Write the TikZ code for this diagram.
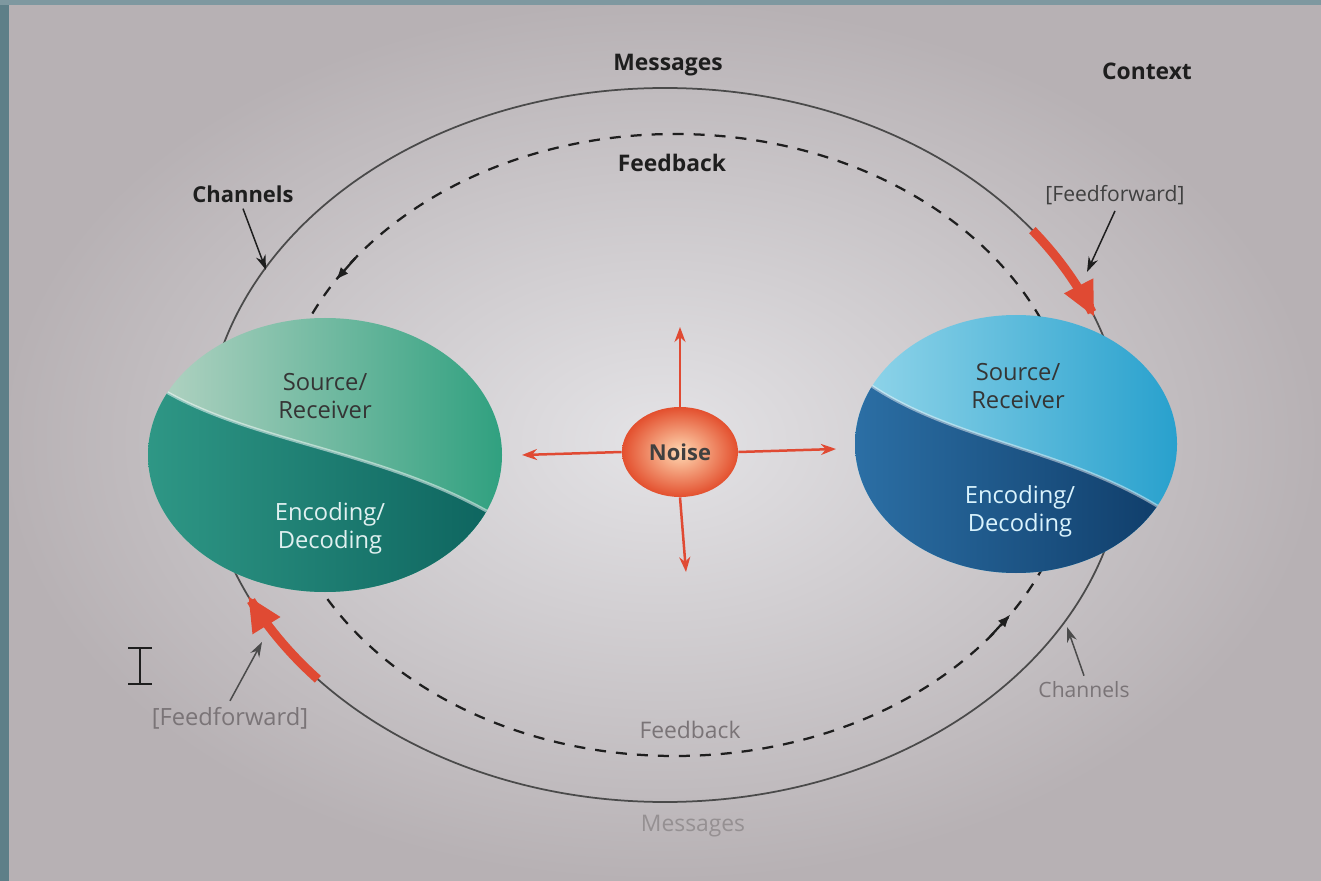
\documentclass[tikz,border=0pt]{standalone}
\usepackage{fontspec}
\setmainfont{Open Sans}
\usetikzlibrary{arrows.meta, shapes.geometric, positioning}

\definecolor{screen}{HTML}{E4E3E6}
\definecolor{screenedge}{HTML}{B7B1B4}
\definecolor{bezel}{HTML}{5E7F88}
\definecolor{ink}{HTML}{1E1E1E}
\definecolor{softink}{HTML}{7A7477}
\definecolor{ringgray}{HTML}{4A4A4A}
\definecolor{noisered}{HTML}{E04A33}
\definecolor{sagelight}{HTML}{B6D4C4}
\definecolor{sagedeep}{HTML}{2FA07F}
\definecolor{tealmid}{HTML}{2F9886}
\definecolor{tealdark}{HTML}{0C625D}
\definecolor{skylight}{HTML}{93D6EA}
\definecolor{skydeep}{HTML}{27A0CD}
\definecolor{navymid}{HTML}{2C70A6}
\definecolor{navydark}{HTML}{0E3A66}

\begin{document}
\begin{tikzpicture}[x=0.02cm, y=-0.02cm,
    toplabel/.style={font=\fontsize{13}{15}\selectfont\bfseries, text=ink},
    softlabel/.style={font=\fontsize{13}{15}\selectfont, text=softink},
    balltext/.style={font=\fontsize{13.5}{16}\selectfont, align=center},
    pointer/.style={-{Stealth[length=0.3cm,width=0.2cm]}, line width=0.03cm, ink},
    feedfwd/.style={line width=0.18cm, noisered, -{Triangle[length=0.7cm,width=0.6cm]}},
    noisearrow/.style={line width=0.05cm, noisered, -{Stealth[length=0.3cm,width=0.22cm]}},
    fbtip/.style={-{Latex[length=0.26cm,width=0.2cm]}, line width=0.045cm, ink}
]
    % screen and bezel
    \useasboundingbox (0,0) rectangle (1321,881);
    \shade[inner color=screen, outer color=screenedge] (0,0) rectangle (1321,881);
    \fill[bezel] (0,0) rectangle (9,881);
    \fill[bezel!80!white] (0,0) rectangle (1321,5);

    % messages ring and feedback ring
    \draw[ringgray, line width=0.035cm] (665,445) ellipse [x radius=460, y radius=357];
    \draw[ink, line width=0.045cm, dash pattern=on 0.22cm off 0.2cm] (675,445) ellipse [x radius=400, y radius=311];

    \coordinate (fbtl1) at ({675+400*cos(-143)},{445+311*sin(-143)});
    \coordinate (fbtl2) at ({675+400*cos(-148)},{445+311*sin(-148)});
    \coordinate (fbbr1) at ({675+400*cos(38)},{445+311*sin(38)});
    \coordinate (fbbr2) at ({675+400*cos(33)},{445+311*sin(33)});
    \draw[fbtip] (fbtl1) -- (fbtl2);
    \draw[fbtip] (fbbr1) -- (fbbr2);

    % feedforward
    \draw[feedfwd] plot[domain=-37:-21, samples=20] ({665+460*cos(\x)},{445+357*sin(\x)});
    \draw[feedfwd] plot[domain=139:155, samples=20] ({665+460*cos(\x)},{445+357*sin(\x)});

    % left ball
    \begin{scope}[shift={(325,455)}]
        \clip (0,0) ellipse [x radius=177, y radius=137];
        \shade[left color=sagelight, right color=sagedeep] (-180,-140) rectangle (180,140);
        \shade[left color=tealmid, right color=tealdark] (-185,-80) .. controls (-90,-10) and (60,-10) .. (185,70) -- (185,140) -- (-185,140) -- cycle;
        \draw[white, opacity=0.5, line width=0.06cm] (-185,-80) .. controls (-90,-10) and (60,-10) .. (185,70);
    \end{scope}
    % right ball
    \begin{scope}[shift={(1016,444)}]
        \clip (0,0) ellipse [x radius=161, y radius=129];
        \shade[left color=skylight, right color=skydeep] (-165,-132) rectangle (165,132);
        \shade[left color=navymid, right color=navydark] (-168,-76) .. controls (-80,0) and (60,0) .. (168,80) -- (168,132) -- (-168,132) -- cycle;
        \draw[white, opacity=0.45, line width=0.06cm] (-168,-76) .. controls (-80,0) and (60,0) .. (168,80);
    \end{scope}

    \node[balltext, text=ink!90] (lsrc) at (325,396) {Source/\\Receiver};
    \node[balltext, text=white!88!teal] (lenc) at (330,528) {Encoding/\\Decoding};
    \node[balltext, text=ink!90] (rsrc) at (1018,386) {Source/\\Receiver};
    \node[balltext, text=white!85!cyan] (renc) at (1020,511) {Encoding/\\Decoding};

    % noise
    \node[ellipse, shade, inner color=orange!30!white, outer color=noisered!90!orange,
          minimum width=2.32cm, minimum height=1.8cm, inner sep=0pt,
          font=\fontsize{12.5}{14}\selectfont\bfseries, text=ink!85] (noise) at (680,452) {Noise};
    \coordinate (nup) at (680,327);
    \coordinate (nleft) at (522,455);
    \coordinate (nright) at (836,449);
    \coordinate (ndown) at (686,572);
    \draw[noisearrow] (noise.north) -- (nup);
    \draw[noisearrow] (noise.west) -- (nleft);
    \draw[noisearrow] (noise.east) -- (nright);
    \draw[noisearrow] (noise.south) -- (ndown);

    % labels
    \node[toplabel] (msgtop) at (668,65) {Messages};
    \node[toplabel] (context) at (1147,71) {Context};
    \node[toplabel] (fbtop) at (672,163) {Feedback};
    \node[toplabel, font=\fontsize{12.5}{14}\selectfont\bfseries] (chantl) at (243,194) {Channels};
    \node[font=\fontsize{12}{14}\selectfont, text=ink!85] (fftr) at (1115,195) {[Feedforward]};
    \node[softlabel, font=\fontsize{13.5}{15}\selectfont] (ffbl) at (230,718) {[Feedforward]};
    \node[softlabel, font=\fontsize{12}{14}\selectfont] (chanbr) at (1084,690) {Channels};
    \node[softlabel] (fbbot) at (690,730) {Feedback};
    \node[softlabel, text=softink!80] (msgbot) at (693,826) {Messages};

    \coordinate (chantlend) at (266,270);
    \coordinate (fftrend) at (1087,272);
    \coordinate (ffblend) at (262,642);
    \coordinate (chanbrend) at (1067,627);
    \draw[pointer] (chantl.south) -- (chantlend);
    \draw[pointer] (fftr.south) -- (fftrend);
    \draw[pointer, ink!80] (ffbl.north) -- (ffblend);
    \draw[pointer, ink!80] (chanbr.north) -- (chanbrend);

    % text cursor
    \draw[ink, line width=0.035cm] (140,648) -- (140,684) (128,648) -- (152,648) (128,684) -- (152,684);
\end{tikzpicture}
\end{document}
